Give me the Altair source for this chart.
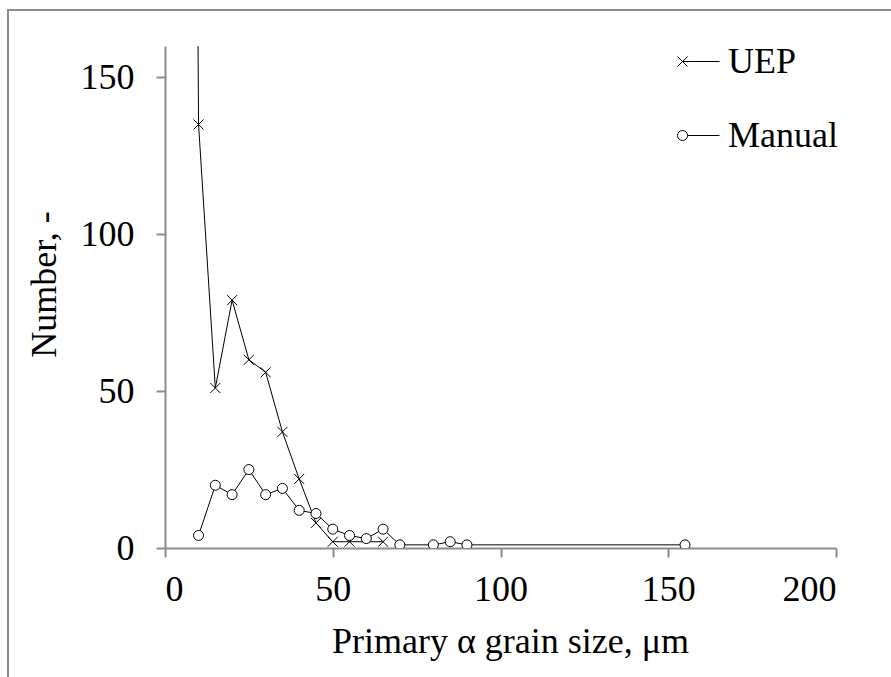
import altair as alt
import pandas as pd

# ---- data ----
series_names = ["UEP", "Manual"]
uep_x = [5, 10, 15, 20, 25, 30, 35, 40, 45, 50, 55, 65]
uep_y = [1000, 135, 51, 79, 60, 56, 37, 22, 8, 2, 2, 2]
man_x = [10, 15, 20, 25, 30, 35, 40, 45, 50, 55, 60, 65, 70, 80, 85, 90, 155]
man_y = [4, 20, 17, 25, 17, 19, 12, 11, 6, 4, 3, 6, 1, 1, 2, 1, 1]
x_ticks = [0, 50, 100, 150, 200]
y_ticks = [0, 50, 100, 150]

df = pd.concat([
    pd.DataFrame({"size": uep_x, "count": uep_y, "series": "UEP"}),
    pd.DataFrame({"size": man_x, "count": man_y, "series": "Manual"}),
], ignore_index=True)

FONT = "Liberation Serif"
GRAY = "#8c8c8c"

X_PATH = "M-1,-1L1,1M-1,1L1,-1"
LEG_UEP = "M-1,-0.24L-0.52,0.24M-1,0.24L-0.52,-0.24M-0.76,0L1,0"
LEG_MAN = "M-0.52,0A0.24,0.24 0 1,1 -1,0A0.24,0.24 0 1,1 -0.52,0M-0.52,0L1,0"

x_enc = alt.X("size:Q", scale=alt.Scale(domain=[0, 200], nice=False),
              axis=alt.Axis(values=x_ticks, title="Primary α grain size, μm",
                            labelPadding=15, titleX=345, titleY=104,
                            titleBaseline="alphabetic", titleAlign="center"))
y_enc = alt.Y("count:Q", scale=alt.Scale(domain=[0, 160], nice=False),
              axis=alt.Axis(values=y_ticks, title="Number, -", labelPadding=22,
                            titleX=-110, titleY=238, titleAngle=270,
                            titleBaseline="alphabetic", titleAlign="center"))

base = alt.Chart(df)

lines = base.mark_line(color="black", strokeWidth=1, clip=True).encode(
    x=x_enc, y=y_enc, detail="series:N"
)

points = base.mark_point(stroke="black", fill="white", fillOpacity=1, strokeWidth=1,
                         size=100, opacity=1, clip=True).encode(
    x="size:Q", y="count:Q",
    shape=alt.Shape("series:N", scale=alt.Scale(domain=series_names, range=[X_PATH, "circle"]),
                    legend=None),
)

legend_layer = base.mark_point(opacity=0, clip=True).encode(
    x="size:Q", y="count:Q",
    shape=alt.Shape("series:N", scale=alt.Scale(domain=series_names, range=[LEG_UEP, LEG_MAN]),
                    legend=alt.Legend(title=None, orient="none", legendX=512, legendY=-6,
                                      symbolSize=1764, symbolOpacity=1,
                                      symbolStrokeColor="black", symbolFillColor="transparent",
                                      symbolStrokeWidth=1, labelFont=FONT, labelFontSize=36,
                                      labelColor="black", labelOffset=8, rowPadding=34,
                                      labelLimit=300)),
)

frame = pd.DataFrame({"b": [0]})
top_border = alt.Chart(frame).mark_rule(color=GRAY, strokeWidth=2, clip=False).encode(
    x=alt.value(-157), x2=alt.value(740), y=alt.value(-36)
)
left_border = alt.Chart(frame).mark_rule(color=GRAY, strokeWidth=2, clip=False).encode(
    x=alt.value(-157), y=alt.value(-37), y2=alt.value(640)
)

chart = alt.layer(lines, points, legend_layer, top_border, left_border).resolve_scale(
    shape="independent"
).properties(
    width=671, height=502,
    autosize=alt.AutoSizeParams(type="none"),
    padding={"left": 165, "top": 46, "right": 55, "bottom": 129},
).configure_view(stroke=None).configure_axis(
    labelFont=FONT, labelFontSize=36, labelColor="black",
    titleFont=FONT, titleFontSize=36, titleColor="black", titleFontWeight="normal",
    domainColor=GRAY, domainWidth=2, tickColor=GRAY, tickWidth=2, tickSize=9,
    grid=False,
)

chart.save("out.html", embed_options={"renderer": "svg", "actions": False})
